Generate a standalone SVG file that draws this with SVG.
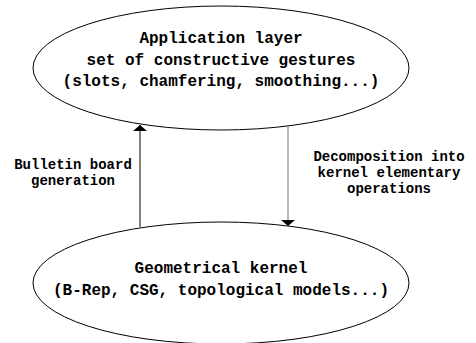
<svg xmlns="http://www.w3.org/2000/svg" width="476" height="343" viewBox="0 0 476 343">
<defs>
<style>
.node{fill:#fff;stroke:#000;stroke-width:1}
.t{font-family:"Liberation Mono","Courier New",monospace;font-weight:bold;text-anchor:middle;fill:#000}
.big{font-size:16px}
.small{font-size:14px}
</style>
<marker id="ah" viewBox="0 0 6 14" refX="6" refY="7" markerWidth="6" markerHeight="14" markerUnits="userSpaceOnUse" orient="auto">
<path d="M0,0 L6,7 L0,14 Z" fill="#000"/>
</marker>
</defs>
<rect width="476" height="343" fill="#fff"/>
<g id="app">
<ellipse class="node" cx="221" cy="68" rx="188" ry="62"/>
<text class="t big" x="221" y="43">Application layer</text>
<text class="t big" x="221" y="65">set of constructive gestures</text>
<text class="t big" x="221" y="86">(slots, chamfering, smoothing...)</text>
</g>
<g id="kernel">
<ellipse class="node" cx="221" cy="283" rx="188" ry="61"/>
<text class="t big" x="221" y="273">Geometrical kernel</text>
<text class="t big" x="221" y="295">(B-Rep, CSG, topological models...)</text>
</g>
<g id="connectors">
<line x1="140" y1="227" x2="140" y2="125" stroke="#000" stroke-width="1" marker-end="url(#ah)"/>
<line x1="288" y1="126" x2="288" y2="226" stroke="#777" stroke-width="1" marker-end="url(#ah)"/>
<text class="t small" x="73" y="169">Bulletin board</text>
<text class="t small" x="73" y="185">generation</text>
<text class="t small" x="389" y="161">Decomposition into</text>
<text class="t small" x="389" y="177">kernel elementary</text>
<text class="t small" x="389" y="193">operations</text>
</g>
</svg>
